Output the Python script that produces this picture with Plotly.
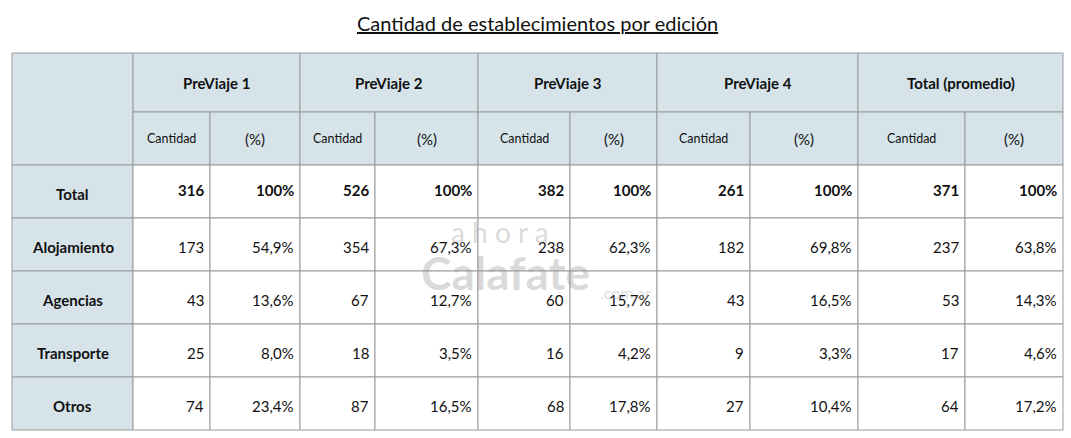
import plotly.graph_objects as go

title = "Cantidad de establecimientos por edición"
editions = ["PreViaje 1", "PreViaje 2", "PreViaje 3", "PreViaje 4", "Total (promedio)"]
sub_headers = ["Cantidad", "(%)"]
categories = ["Total", "Alojamiento", "Agencias", "Transporte", "Otros"]
counts = [
    [316, 526, 382, 261, 371],
    [173, 354, 238, 182, 237],
    [43, 67, 60, 43, 53],
    [25, 18, 16, 9, 17],
    [74, 87, 68, 27, 64],
]
percents = [
    ["100%", "100%", "100%", "100%", "100%"],
    ["54,9%", "67,3%", "62,3%", "69,8%", "63,8%"],
    ["13,6%", "12,7%", "15,7%", "16,5%", "14,3%"],
    ["8,0%", "3,5%", "4,2%", "3,3%", "4,6%"],
    ["23,4%", "16,5%", "17,8%", "10,4%", "17,2%"],
]

col_x = [12, 133, 210, 300, 375, 478, 570, 657, 750, 858, 965, 1063]
row_y = [53, 112, 165, 218, 271, 324, 377, 430]
HEAD = "#d6e4ea"
BORDER = "#9a9a9a"
FONT = "Lato"

fig = go.Figure()
shapes, ann = [], []

def rect(x0, y0, x1, y1, fill):
    shapes.append(dict(type="rect", x0=x0, x1=x1, y0=y0, y1=y1, fillcolor=fill,
                       line=dict(color=BORDER, width=1), layer="below"))

def text(x, y, s, size=14, bold=False, anchor="center"):
    ann.append(dict(x=x, y=y, text=f"<b>{s}</b>" if bold else s, showarrow=False,
                    xanchor=anchor, yanchor="middle", font=dict(family=FONT, size=size, color="#111")))

rect(col_x[0], row_y[0], col_x[1], row_y[2], HEAD)
for i, ed in enumerate(editions):
    a, b, c = col_x[1 + 2 * i], col_x[2 + 2 * i], col_x[3 + 2 * i]
    rect(a, row_y[0], c, row_y[1], HEAD)
    text((a + c) / 2, (row_y[0] + row_y[1]) / 2, ed, 15, True)
    rect(a, row_y[1], b, row_y[2], HEAD)
    rect(b, row_y[1], c, row_y[2], HEAD)
    text((a + b) / 2, (row_y[1] + row_y[2]) / 2, sub_headers[0], 12.5)
    text((b + c) / 2, (row_y[1] + row_y[2]) / 2, sub_headers[1], 15)

for r, cat in enumerate(categories):
    y0, y1 = row_y[2 + r], row_y[3 + r]
    ym = (y0 + y1) / 2 + 2
    rect(col_x[0], y0, col_x[1], y1, HEAD)
    text((col_x[0] + col_x[1]) / 2, ym, cat, 15, True)
    for i in range(5):
        a, b, c = col_x[1 + 2 * i], col_x[2 + 2 * i], col_x[3 + 2 * i]
        rect(a, y0, b, y1, "white")
        rect(b, y0, c, y1, "white")
        text(b - 4, ym - 4 if r == 0 else ym, str(counts[r][i]), 15, r == 0, "right")
        text(c - 4, ym - 4 if r == 0 else ym, percents[r][i], 15, r == 0, "right")

ann.append(dict(x=537, y=23, text=f"<u>{title}</u>", showarrow=False, xanchor="center",
                yanchor="middle", font=dict(family=FONT, size=20, color="#111")))
# watermark
ann.append(dict(x=500, y=232, text="a h o r a", showarrow=False, font=dict(family=FONT, size=28, color="rgba(150,150,150,0.35)")))
ann.append(dict(x=505, y=272, text="<b>Calafate</b>", showarrow=False, font=dict(family=FONT, size=46, color="rgba(150,150,150,0.35)")))
ann.append(dict(x=625, y=292, text=".com.ar", showarrow=False, font=dict(family=FONT, size=16, color="rgba(150,150,150,0.35)")))

fig.update_layout(width=1071, height=438, margin=dict(l=0, r=0, t=0, b=0),
                  paper_bgcolor="white", plot_bgcolor="white", shapes=shapes, annotations=ann,
                  xaxis=dict(range=[0, 1071], visible=False, fixedrange=True),
                  yaxis=dict(range=[438, 0], visible=False, fixedrange=True),
                  showlegend=False)
fig.write_html("out.html", config={"displayModeBar": False},
               post_script="document.body.style.margin='0';document.body.style.overflow='hidden';")
